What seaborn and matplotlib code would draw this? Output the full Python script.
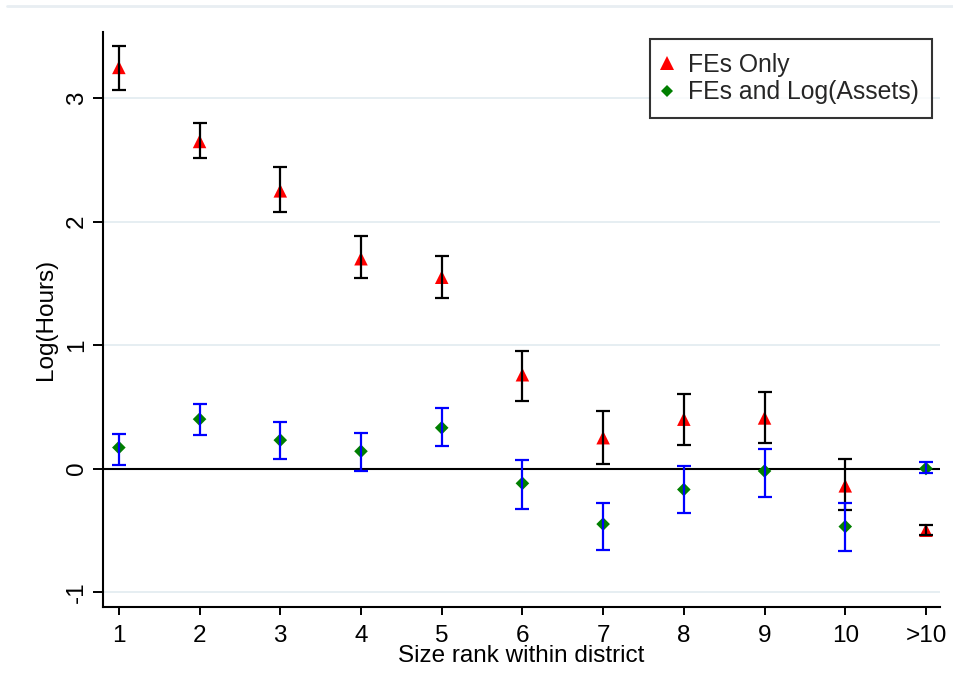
import matplotlib
matplotlib.use("Agg")
import matplotlib.pyplot as plt
from matplotlib.lines import Line2D
import numpy as np
import pandas as pd
import seaborn as sns

# Size-rank categories (x axis)
ranks = ["1", "2", "3", "4", "5", "6", "7", "8", "9", "10", ">10"]

# FEs only: point estimate and 95% CI
fe_coef = [3.25, 2.65, 2.25, 1.70, 1.55, 0.76, 0.25, 0.40, 0.41, -0.14, -0.50]
fe_lo = [3.07, 2.52, 2.08, 1.54, 1.38, 0.55, 0.04, 0.19, 0.21, -0.34, -0.54]
fe_hi = [3.42, 2.80, 2.44, 1.88, 1.72, 0.95, 0.47, 0.60, 0.62, 0.08, -0.46]

# FEs and Log(Assets)
as_coef = [0.17, 0.40, 0.23, 0.14, 0.33, -0.12, -0.45, -0.17, -0.02, -0.47, 0.00]
as_lo = [0.03, 0.27, 0.08, -0.02, 0.18, -0.33, -0.66, -0.36, -0.23, -0.67, -0.04]
as_hi = [0.28, 0.52, 0.38, 0.29, 0.49, 0.07, -0.28, 0.02, 0.16, -0.28, 0.05]

y_ticks = [-1, 0, 1, 2, 3]

series_names = ["FEs Only", "FEs and Log(Assets)"]
marker_colors = {"FEs Only": "#ff0000", "FEs and Log(Assets)": "#007f00"}
bar_colors = {"FEs Only": "black", "FEs and Log(Assets)": "#0000ff"}
markers = {"FEs Only": "^", "FEs and Log(Assets)": "D"}

pos = np.arange(1, len(ranks) + 1)
df = pd.concat([
    pd.DataFrame({"pos": pos, "rank": ranks, "coef": fe_coef, "lo": fe_lo, "hi": fe_hi,
                  "model": series_names[0]}),
    pd.DataFrame({"pos": pos, "rank": ranks, "coef": as_coef, "lo": as_lo, "hi": as_hi,
                  "model": series_names[1]}),
], ignore_index=True)

sns.set_theme(style="white")
plt.rcParams["font.family"] = ["Liberation Sans", "DejaVu Sans"]
FS = 17.5

fig = plt.figure(figsize=(9.54, 6.98), dpi=100)
ax = fig.add_axes([0.108, 0.130, 0.877, 0.824])

# grid + zero line
for t in y_ticks:
    if t != 0:
        ax.axhline(t, color="#e6eef2", lw=1.4, zorder=0)
ax.axhline(0, color="black", lw=1.5, zorder=1)

# markers (sizes differ per series)
for name, sz in zip(series_names, [95, 48]):
    sub = df[df["model"] == name]
    sns.scatterplot(data=sub, x="pos", y="coef", marker=markers[name],
                    color=marker_colors[name], s=sz, edgecolor="none",
                    linewidth=0, ax=ax, zorder=2, legend=False)

# confidence intervals on top
for name in series_names:
    sub = df[df["model"] == name]
    ax.errorbar(sub["pos"], sub["coef"],
                yerr=[sub["coef"] - sub["lo"], sub["hi"] - sub["coef"]],
                fmt="none", ecolor=bar_colors[name], elinewidth=1.6,
                capsize=4.8, capthick=1.6, zorder=3)

ax.set_xlim(0.804, 11.17)
ax.set_ylim(-1.124, 3.536)
ax.set_xticks(pos)
ax.set_xticklabels(ranks)
ax.set_yticks(y_ticks)
ax.set_yticklabels([str(t) for t in y_ticks])

for s in ["top", "right"]:
    ax.spines[s].set_visible(False)
for s in ["left", "bottom"]:
    ax.spines[s].set_color("black")
    ax.spines[s].set_linewidth(1.5)

ax.tick_params(axis="both", which="major", width=1.4, color="black",
               labelsize=FS, labelcolor="black", direction="out",
               bottom=True, left=True)
ax.tick_params(axis="x", length=6, pad=7)
ax.tick_params(axis="y", length=7, pad=4, labelrotation=90)
for lab in ax.get_yticklabels():
    lab.set_va("center")

ax.set_xlabel("Size rank within district", fontsize=FS, color="black")
ax.xaxis.set_label_coords(0.5, -0.066)
ax.set_ylabel("Log(Hours)", fontsize=FS, color="black")
ax.yaxis.set_label_coords(-0.055, 0.5)

handles = [
    Line2D([], [], ls="none", marker="^", color=marker_colors[series_names[0]],
           markersize=9.5, markeredgewidth=0),
    Line2D([], [], ls="none", marker="D", color=marker_colors[series_names[1]],
           markersize=6.5, markeredgewidth=0),
]
leg = ax.legend(handles, series_names, loc="upper right",
                bbox_to_anchor=(932 / 954, 1 - 39 / 698),
                bbox_transform=fig.transFigure, borderaxespad=0,
                fontsize=17.8, frameon=True, fancybox=False, borderpad=0.55,
                handlelength=0.25, handletextpad=0.7, labelspacing=0.15)
leg.get_frame().set_edgecolor("black")
leg.get_frame().set_linewidth(1.5)

# faint graph-region edge at top
fig.add_artist(Line2D([0.007, 1.0], [1 - 6 / 698, 1 - 6 / 698],
                      transform=fig.transFigure, color="#e8eef2", lw=2))

fig.savefig("out.png", dpi=100)
